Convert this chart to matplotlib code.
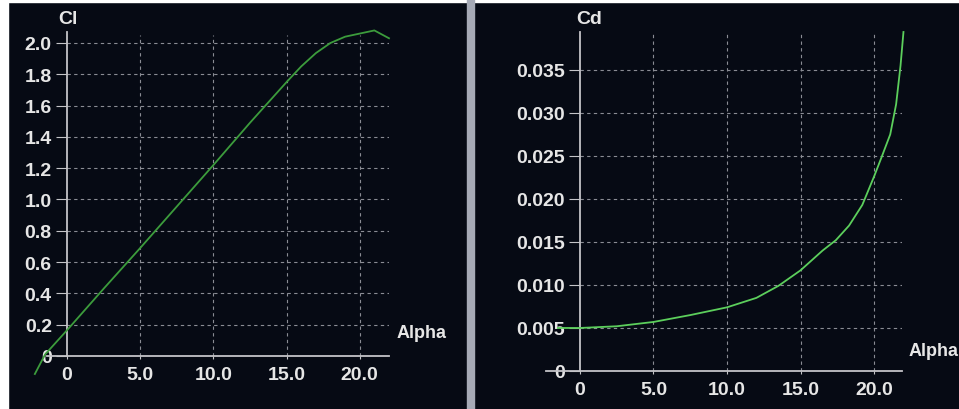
import matplotlib
matplotlib.use('Agg')
import matplotlib.pyplot as plt
from matplotlib.patches import Rectangle

# polar data
alpha_cl = [-2.2, -1.5, 0, 2.5, 5, 7.5, 10, 12.5, 15, 16, 17, 18, 19, 20, 21, 22]
cl = [-0.115, 0.01, 0.165, 0.43, 0.69, 0.955, 1.22, 1.49, 1.75, 1.85, 1.935, 2.00, 2.04, 2.06, 2.08, 2.03]

alpha_cd = [-1.5, 0, 2.5, 5, 7.5, 10, 12, 13.5, 15, 16.5, 17.4, 18.3, 19.2, 20, 20.5, 21.1, 21.5, 21.8, 22]
cd = [0.0050, 0.0050, 0.0052, 0.0057, 0.0065, 0.0074, 0.0085, 0.0099, 0.0117, 0.0140,
      0.0152, 0.0169, 0.0193, 0.0226, 0.0248, 0.0275, 0.0310, 0.0355, 0.0394]

x_ticks = [0, 5, 10, 15, 20]
x_labels = ['0', '5.0', '10.0', '15.0', '20.0']
cl_ticks = [0, 0.2, 0.4, 0.6, 0.8, 1.0, 1.2, 1.4, 1.6, 1.8, 2.0]
cl_labels = ['0', '0.2', '0.4', '0.6', '0.8', '1.0', '1.2', '1.4', '1.6', '1.8', '2.0']
cd_ticks = [0, 0.005, 0.010, 0.015, 0.020, 0.025, 0.030, 0.035]
cd_labels = ['0', '0.005', '0.010', '0.015', '0.020', '0.025', '0.030', '0.035']

W, H = 959, 410
bg = '#060a14'
fg = '#e6e6e6'
axc = '#c4c4c8'
gridc = '#8a8c94'
fs = 14

plt.rcParams['font.family'] = ['Liberation Sans', 'DejaVu Sans']

fig = plt.figure(figsize=(W / 100, H / 100), dpi=100, facecolor=bg)

# white edges of the screenshot and the separator bar
fig.add_artist(Rectangle((0, 0), 8 / W, 1, transform=fig.transFigure, color='white', zorder=0))
fig.add_artist(Rectangle((0, 1 - 3 / H), 1, 3 / H, transform=fig.transFigure, color='white', zorder=0))
fig.add_artist(Rectangle((467 / W, 0), 7 / W, 1, transform=fig.transFigure, color='#a6aab6', zorder=0))


def make_axes(px_left, px_right, px_bottom, px_top, xlim, ylim):
    ax = fig.add_axes([px_left / W, 1 - px_bottom / H,
                       (px_right - px_left) / W, (px_bottom - px_top) / H])
    ax.set_facecolor('none')
    ax.set_xlim(*xlim)
    ax.set_ylim(*ylim)
    for s in ['top', 'right']:
        ax.spines[s].set_visible(False)
    ax.spines['left'].set_position(('data', 0))
    ax.spines['left'].set_color(axc)
    ax.spines['bottom'].set_color(axc)
    ax.spines['left'].set_linewidth(1.3)
    ax.spines['bottom'].set_linewidth(1.3)
    ax.tick_params(axis='y', colors=axc, length=8, width=0.8, pad=3,
                   labelcolor=fg, labelsize=fs)
    ax.tick_params(axis='x', colors=axc, length=2, width=0.8, pad=5,
                   labelcolor=fg, labelsize=fs)
    return ax


def style_labels(ax):
    for t in ax.get_xticklabels() + ax.get_yticklabels():
        t.set_fontweight('bold')


# ---- left: Cl vs alpha
ax1 = make_axes(47, 389, 357, 33, (-1.37, 22.0), (0, 2.07))
ax1.set_xticks(x_ticks, x_labels)
ax1.set_yticks(cl_ticks, cl_labels)
ax1.hlines(cl_ticks[1:], 0, 22.0, colors=gridc, linestyles=(0, (3, 3)), linewidth=0.8)
ax1.vlines(x_ticks[1:], 0, 2.05, colors=gridc, linestyles=(0, (3, 3)), linewidth=0.8)
ax1.plot(alpha_cl, cl, color='#3c9c3c', lw=1.3, clip_on=False, zorder=5)
style_labels(ax1)

# ---- right: Cd vs alpha
ax2 = make_axes(546, 902, 372, 33, (-2.31, 21.9), (0, 0.0394))
ax2.set_xticks(x_ticks, x_labels)
ax2.set_yticks(cd_ticks, cd_labels)
ax2.hlines(cd_ticks[1:], 0, 21.9, colors=gridc, linestyles=(0, (3, 3)), linewidth=0.8)
ax2.vlines(x_ticks[1:], 0, 0.0394, colors=gridc, linestyles=(0, (3, 3)), linewidth=0.8)
ax2.plot(alpha_cd, cd, color='#5ccf5c', lw=1.3, clip_on=False, zorder=5)
style_labels(ax2)

# axis titles
fig.text(68 / W, 1 - 20 / H, 'Cl', color=fg, fontsize=fs, fontweight='bold', ha='center', va='center')
fig.text(589 / W, 1 - 20 / H, 'Cd', color=fg, fontsize=fs, fontweight='bold', ha='center', va='center')
fig.text(397 / W, 1 - 333 / H, 'Alpha', color=fg, fontsize=13, fontweight='bold', ha='left', va='center')
fig.text(909 / W, 1 - 352 / H, 'Alpha', color=fg, fontsize=13, fontweight='bold', ha='left', va='center')

fig.savefig('out.png', dpi=100, facecolor=bg)
